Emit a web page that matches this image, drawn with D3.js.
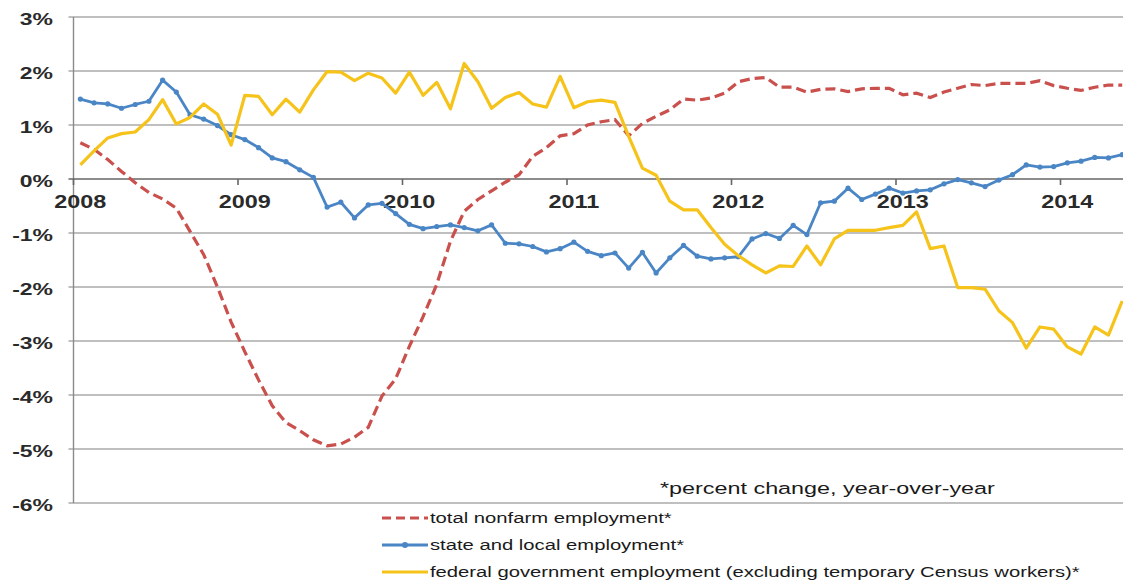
<!DOCTYPE html>
<html>
<head>
<meta charset="utf-8">
<script src="https://cdn.jsdelivr.net/npm/d3@7"></script>
<style>
  html, body { margin: 0; padding: 0; background: #fff; }
  svg { display: block; font-family: "Liberation Sans", Arial, sans-serif; }
</style>
</head>
<body>
<svg id="chart" width="1123" height="582"></svg>
<script>
// ---- data (monthly, Jan 2008 .. May 2014), percent change year-over-year ----
const startYear = 2008;
const yearLabels = ["2008", "2009", "2010", "2011", "2012", "2013", "2014"];
const yTicks = [3, 2, 1, 0, -1, -2, -3, -4, -5, -6];

const totalNonfarm = [
  0.67, 0.55, 0.36, 0.14, -0.07, -0.25, -0.37, -0.54, -0.97, -1.40, -2.00, -2.65,
  -3.20, -3.72, -4.20, -4.51, -4.66, -4.83, -4.94, -4.91, -4.78, -4.60, -4.02, -3.70,
  -3.10, -2.55, -1.95, -1.15, -0.60, -0.38, -0.22, -0.06, 0.08, 0.42, 0.58, 0.80,
  0.84, 1.00, 1.06, 1.10, 0.80, 1.03, 1.16, 1.28, 1.48, 1.46, 1.50, 1.59,
  1.80, 1.86, 1.88, 1.70, 1.70, 1.61, 1.66, 1.67, 1.62, 1.67, 1.68, 1.68,
  1.56, 1.59, 1.51, 1.61, 1.68, 1.75, 1.73, 1.77, 1.77, 1.77, 1.82, 1.73,
  1.68, 1.64, 1.70, 1.74, 1.74
];
const stateLocal = [
  1.48, 1.41, 1.39, 1.31, 1.38, 1.44, 1.83, 1.61, 1.19, 1.11, 0.99, 0.82,
  0.73, 0.58, 0.39, 0.32, 0.17, 0.03, -0.52, -0.43, -0.72, -0.48, -0.45, -0.64,
  -0.84, -0.92, -0.88, -0.85, -0.90, -0.96, -0.85, -1.19, -1.20, -1.25, -1.35, -1.29,
  -1.17, -1.34, -1.42, -1.37, -1.65, -1.36, -1.74, -1.46, -1.23, -1.43, -1.48, -1.46,
  -1.44, -1.11, -1.01, -1.10, -0.86, -1.03, -0.44, -0.41, -0.17, -0.38, -0.28, -0.17,
  -0.26, -0.22, -0.20, -0.09, -0.01, -0.07, -0.14, -0.02, 0.08, 0.26, 0.22, 0.23,
  0.30, 0.33, 0.40, 0.39, 0.45
];
const federal = [
  0.26, 0.52, 0.76, 0.84, 0.87, 1.10, 1.47, 1.02, 1.14, 1.39, 1.20, 0.63,
  1.55, 1.53, 1.19, 1.48, 1.24, 1.65, 1.99, 1.98, 1.82, 1.96, 1.87, 1.59,
  1.98, 1.55, 1.79, 1.30, 2.14, 1.80, 1.31, 1.51, 1.60, 1.39, 1.33, 1.90,
  1.32, 1.43, 1.46, 1.42, 0.79, 0.20, 0.07, -0.41, -0.57, -0.57, -0.90, -1.21,
  -1.42, -1.59, -1.74, -1.61, -1.62, -1.24, -1.59, -1.11, -0.95, -0.95, -0.95, -0.90,
  -0.86, -0.61, -1.29, -1.24, -2.01, -2.01, -2.04, -2.44, -2.66, -3.13, -2.74, -2.78,
  -3.11, -3.24, -2.74, -2.89, -2.26
];
const legendLabels = [
  "total nonfarm employment*",
  "state and local employment*",
  "federal government employment (excluding temporary Census workers)*"
];
const noteText = "*percent change, year-over-year";

// ---- layout ----
const svg = d3.select("#chart");
const plotLeft = 73.5, plotRight = 1123, plotTop = 17, plotBottom = 503;
const SX = 1.35; // horizontal stretch of the original picture's lettering

// month index scale: year boundaries at 0,12,24..., points at mid-month (i + 0.5)
const x = d3.scaleLinear().domain([0, 12]).range([plotLeft, 238]);
const y = d3.scaleLinear().domain([-6, 3]).range([plotBottom, plotTop]);

const colors = { red: "#C9504C", blue: "#4A86C5", yellow: "#F6C31B" };

function sText(g, str, tx, ty, opts) {
  return g.append("text")
    .attr("transform", `translate(${tx},${ty}) scale(${opts.sx || SX},1)`)
    .attr("text-anchor", opts.anchor || "start")
    .attr("font-size", opts.size)
    .attr("font-weight", opts.weight || "normal")
    .attr("fill", opts.fill || "#222")
    .text(str);
}

// ---- gridlines ----
const grid = svg.append("g");
grid.selectAll("line.grid").data(yTicks.filter(d => d !== 0)).join("line")
  .attr("class", "grid")
  .attr("x1", plotLeft - 5).attr("x2", plotRight)
  .attr("y1", d => y(d)).attr("y2", d => y(d))
  .attr("stroke", "#aaaaaa").attr("stroke-width", 1.4);

// y axis line
svg.append("line")
  .attr("x1", plotLeft).attr("x2", plotLeft)
  .attr("y1", y(3)).attr("y2", y(-6))
  .attr("stroke", "#8a8a8a").attr("stroke-width", 1.4);

// zero axis line with year ticks
const yearIdx = yearLabels.map((d, i) => i * 12);
svg.append("line")
  .attr("x1", plotLeft - 5).attr("x2", plotRight)
  .attr("y1", y(0)).attr("y2", y(0))
  .attr("stroke", "#666").attr("stroke-width", 1.6);
svg.append("g").selectAll("line").data(yearIdx).join("line")
  .attr("x1", d => x(d)).attr("x2", d => x(d))
  .attr("y1", y(0)).attr("y2", y(0) + 6)
  .attr("stroke", "#666").attr("stroke-width", 1.6);

// y tick labels
const yl = svg.append("g");
yTicks.forEach(t => {
  sText(yl, t + "%", 53, y(t) + 8, { anchor: "end", size: 17, weight: "bold", fill: "#2a2a2a" });
});
// x tick labels (centred on the January point)
const xl = svg.append("g");
yearLabels.forEach((lab, i) => {
  sText(xl, lab, x(i * 12 + 0.5), y(0) + 29, { anchor: "middle", size: 18, weight: "bold", fill: "#2a2a2a", sx: 1.3 });
});

// ---- series ----
svg.append("clipPath").attr("id", "plotclip")
  .append("rect").attr("x", plotLeft).attr("y", 0).attr("width", plotRight - plotLeft).attr("height", plotBottom + 2);
const plot = svg.append("g").attr("clip-path", "url(#plotclip)");

const line = d3.line().x((d, i) => x(i + 0.5)).y(d => y(d));

plot.append("path").datum(totalNonfarm)
  .attr("d", line).attr("fill", "none")
  .attr("stroke", colors.red).attr("stroke-width", 3.2)
  .attr("stroke-dasharray", "10,5");

plot.append("path").datum(stateLocal)
  .attr("d", line).attr("fill", "none")
  .attr("stroke", colors.blue).attr("stroke-width", 2.8)
  .attr("stroke-linejoin", "round");
plot.append("g").selectAll("circle").data(stateLocal).join("circle")
  .attr("cx", (d, i) => x(i + 0.5)).attr("cy", d => y(d)).attr("r", 2.6)
  .attr("fill", colors.blue);

plot.append("path").datum(federal)
  .attr("d", line).attr("fill", "none")
  .attr("stroke", colors.yellow).attr("stroke-width", 3.2)
  .attr("stroke-linejoin", "round");

// ---- note ----
sText(svg, noteText, 660, 494, { size: 17.3, fill: "#1a1a1a" });

// ---- legend ----
const leg = svg.append("g");
const legY = [518, 545, 572];
const legStyles = [
  { c: colors.red, dash: "9,5", dot: false },
  { c: colors.blue, dash: null, dot: true },
  { c: colors.yellow, dash: null, dot: false }
];
legendLabels.forEach((lab, i) => {
  const st = legStyles[i];
  leg.append("line").attr("x1", 382).attr("x2", 428)
    .attr("y1", legY[i]).attr("y2", legY[i])
    .attr("stroke", st.c).attr("stroke-width", 3)
    .attr("stroke-dasharray", st.dash);
  if (st.dot) leg.append("circle").attr("cx", 405).attr("cy", legY[i]).attr("r", 3).attr("fill", st.c);
  sText(leg, lab, 430, legY[i] + 5, { size: 15, fill: "#1a1a1a" });
});
</script>
</body>
</html>
